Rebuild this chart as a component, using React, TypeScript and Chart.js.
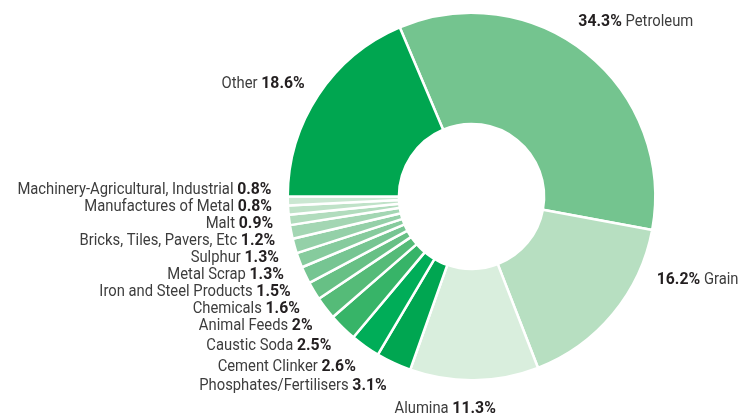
import React, { useEffect, useRef } from "react";
import { Chart, registerables } from "chart.js";

Chart.register(...registerables);

const categories = [
  "Petroleum",
  "Grain",
  "Alumina",
  "Phosphates/Fertilisers",
  "Cement Clinker",
  "Caustic Soda",
  "Animal Feeds",
  "Chemicals",
  "Iron and Steel Products",
  "Metal Scrap",
  "Sulphur",
  "Bricks, Tiles, Pavers, Etc",
  "Malt",
  "Manufactures of Metal",
  "Machinery-Agricultural, Industrial",
  "Other",
];

const shares = [34.3, 16.2, 11.3, 3.1, 2.6, 2.5, 2, 1.6, 1.5, 1.3, 1.3, 1.2, 0.9, 0.8, 0.8, 18.6];

const sliceColors = [
  "#74c48f",
  "#b7dfc1",
  "#d9eedd",
  "#00a651",
  "#00ad58",
  "#37b468",
  "#55bb78",
  "#67c085",
  "#76c592",
  "#86cb9d",
  "#94d0a8",
  "#a3d6b3",
  "#b1dcbd",
  "#bfe2c8",
  "#cbe7d2",
  "#00a650",
];

const FONT = "Roboto, sans-serif";
const FONT_SIZE = 17;
const REG_SCALE = 0.87;
const BOLD_SCALE = 0.93;
const TEXT_COLOR = "#3d3d3d";
const BOLD_COLOR = "#231f20";

// angular nudges (degrees) and radii for the large labels, layout only
const LABEL_NUDGE: Record<number, { da: number; r: number }> = {
  0: { da: -7.5, r: 206 },
  1: { da: -15.8, r: 202.5 },
  2: { da: 8, r: 212 },
};

const labelPlugin = {
  id: "sliceLabels",
  afterDraw(chart: any) {
    const ctx = chart.ctx as CanvasRenderingContext2D;
    const meta = chart.getDatasetMeta(0);
    const regFont = `${FONT_SIZE}px ${FONT}`;
    const boldFont = `bold ${FONT_SIZE}px ${FONT}`;
    type L = { i: number; x: number; y: number; align: "left" | "right" | "center"; pctFirst: boolean };
    const labels: L[] = [];
    meta.data.forEach((arc: any, i: number) => {
      const { x: cx, y: cy, startAngle, endAngle } = arc.getProps(["x", "y", "startAngle", "endAngle"], true);
      let mid = (startAngle + endAngle) / 2;
      const nudge = LABEL_NUDGE[i];
      if (nudge) {
        mid += (nudge.da * Math.PI) / 180;
        const x = cx + nudge.r * Math.cos(mid);
        const y = cy + nudge.r * Math.sin(mid);
        const c = Math.cos(mid);
        const align = Math.abs(c) < 0.2 ? "center" : c > 0 ? "left" : "right";
        labels.push({ i, x, y, align, pctFirst: c > 0.2 });
      } else {
        const x = cx + 200 * Math.cos(mid);
        const y = cy + 207 * Math.sin(mid);
        const c = Math.cos(mid);
        labels.push({ i, x, y, align: c >= 0 ? "left" : "right", pctFirst: c >= 0 });
      }
    });
    // resolve overlaps on the left side by clustering and spreading evenly
    const gap = 17;
    const left = labels.filter((l) => l.align === "right").sort((a, b) => a.y - b.y);
    const clusters = left.map((l) => ({ items: [l], sum: l.y }));
    const place = (c: { items: L[]; sum: number }) => {
      const mean = c.sum / c.items.length;
      const n = c.items.length;
      return c.items.map((_, k) => mean + (k - (n - 1) / 2) * gap);
    };
    let merged = true;
    while (merged) {
      merged = false;
      for (let k = 0; k < clusters.length - 1; k++) {
        const a = place(clusters[k]);
        const b = place(clusters[k + 1]);
        if (b[0] - a[a.length - 1] < gap) {
          clusters[k] = {
            items: clusters[k].items.concat(clusters[k + 1].items),
            sum: clusters[k].sum + clusters[k + 1].sum,
          };
          clusters.splice(k + 1, 1);
          merged = true;
          break;
        }
      }
    }
    clusters.forEach((c) => {
      const ys = place(c);
      c.items.forEach((l, k) => (l.y = ys[k]));
    });

    ctx.save();
    ctx.textBaseline = "alphabetic";
    ctx.textAlign = "left";
    labels.forEach((l) => {
      const name = categories[l.i];
      const pct = `${shares[l.i]}%`;
      const parts = l.pctFirst
        ? [
            { t: pct, f: boldFont, c: BOLD_COLOR, s: BOLD_SCALE },
            { t: " " + name, f: regFont, c: TEXT_COLOR, s: REG_SCALE },
          ]
        : [
            { t: name + " ", f: regFont, c: TEXT_COLOR, s: REG_SCALE },
            { t: pct, f: boldFont, c: BOLD_COLOR, s: BOLD_SCALE },
          ];
      const widths = parts.map((p) => {
        ctx.font = p.f;
        return ctx.measureText(p.t).width * p.s;
      });
      const total = widths[0] + widths[1];
      let x = l.align === "left" ? l.x : l.align === "right" ? l.x - total : l.x - total / 2;
      const baseline = l.y + 6;
      parts.forEach((p, k) => {
        ctx.save();
        ctx.font = p.f;
        ctx.fillStyle = p.c;
        ctx.translate(x, baseline);
        ctx.scale(p.s, 1);
        ctx.fillText(p.t, 0, 0);
        ctx.restore();
        x += widths[k];
      });
    });
    ctx.restore();
  },
};

export default function App() {
  const ref = useRef<HTMLCanvasElement | null>(null);
  useEffect(() => {
    document.body.style.margin = "0";
    const chart = new Chart(ref.current as HTMLCanvasElement, {
      type: "doughnut",
      data: {
        labels: categories,
        datasets: [
          {
            data: shares,
            backgroundColor: sliceColors,
            borderColor: "#ffffff",
            borderWidth: 2.5,
          },
        ],
      },
      options: {
        animation: false,
        responsive: false,
        rotation: -23,
        cutout: "39.5%",
        layout: { padding: { left: 286.5, right: 83.5, top: 11.5, bottom: 34.5 } },
        plugins: {
          legend: { display: false },
          tooltip: { enabled: false },
        },
      },
      plugins: [labelPlugin],
    });
    return () => chart.destroy();
  }, []);
  return (
    <div style={{ position: "absolute", left: 0, top: 0, width: 740, height: 416, background: "#fff" }}>
      <canvas ref={ref} width={740} height={416} style={{ width: 740, height: 416 }} />
    </div>
  );
}
